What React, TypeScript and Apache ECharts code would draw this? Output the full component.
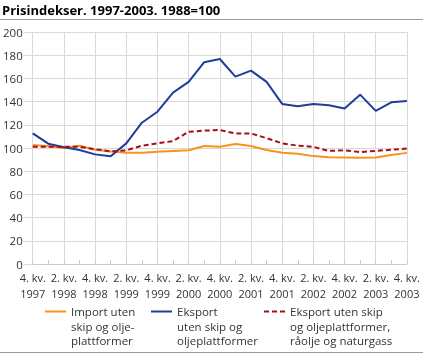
import React, { useEffect, useRef } from "react";
import * as echarts from "echarts";

const categories = [
  "4. kv.\n1997", "1. kv.\n1998", "2. kv.\n1998", "3. kv.\n1998", "4. kv.\n1998",
  "1. kv.\n1999", "2. kv.\n1999", "3. kv.\n1999", "4. kv.\n1999",
  "1. kv.\n2000", "2. kv.\n2000", "3. kv.\n2000", "4. kv.\n2000",
  "1. kv.\n2001", "2. kv.\n2001", "3. kv.\n2001", "4. kv.\n2001",
  "1. kv.\n2002", "2. kv.\n2002", "3. kv.\n2002", "4. kv.\n2002",
  "1. kv.\n2003", "2. kv.\n2003", "3. kv.\n2003", "4. kv.\n2003",
];

const importValues = [
  102.6, 101.5, 100, 102, 98.5, 97, 95.8, 96, 96.8, 97.4, 98, 101.7, 101.1,
  103.4, 101.7, 98.3, 96, 95, 93, 92, 91.8, 91.5, 91.8, 94, 95.8,
];
const eksportValues = [
  112.6, 103.7, 100.6, 98.3, 94.5, 92.8, 104, 121.8, 131.3, 147.7, 157, 174,
  176.7, 161.5, 166.7, 157, 138, 136, 138, 136.8, 134, 146, 132, 139.4, 140.5,
];
const eksportUtenOljeValues = [
  101, 101, 101, 101, 99, 97, 98, 102, 104, 106, 114, 115, 115.5, 112.5, 112.5,
  108.5, 104, 102, 101, 97.5, 98, 96.5, 97.5, 98.5, 99.5,
];

const seriesNames = [
  "Import uten\nskip og olje-\nplattformer",
  "Eksport\nuten skip og\noljeplattformer",
  "Eksport uten skip\nog oljeplattformer,\nråolje og naturgass",
];
const seriesColors = ["#f7941d", "#1f3d99", "#a50f15"];
const seriesTypes = ["solid", "solid", "dashed"];
const seriesData = [importValues, eksportValues, eksportUtenOljeValues];

const yTicks = { min: 0, max: 200, interval: 20 };
const title = "Prisindekser. 1997-2003. 1988=100";

const FONT = "'Open Sans', sans-serif";

export default function App() {
  const ref = useRef<HTMLDivElement>(null);
  useEffect(() => {
    if (!ref.current) return;
    const chart = echarts.init(ref.current, null, { renderer: "svg" });
    const legendX = [45, 151, 264];
    const legendGraphics: any[] = [];
    seriesNames.forEach((name, i) => {
      legendGraphics.push({
        type: "line",
        shape: { x1: legendX[i], y1: 311.5, x2: legendX[i] + 21, y2: 311.5 },
        style: {
          stroke: seriesColors[i],
          lineWidth: 2,
          lineDash: seriesTypes[i] === "dashed" ? [5, 3] : null,
        },
      });
      legendGraphics.push({
        type: "text",
        x: legendX[i] + 26,
        y: 304.5,
        style: {
          text: name,
          font: `11.5px ${FONT}`,
          fill: "#333",
          lineHeight: 14.5,
          textVerticalAlign: "top",
        },
      });
    });
    chart.setOption({
      animation: false,
      textStyle: { fontFamily: FONT },
      graphic: [
        {
          type: "text",
          x: 2,
          y: 3,
          style: {
            text: title,
            font: `bold 13px ${FONT}`,
            fill: "#000",
          },
        },
        {
          type: "line",
          shape: { x1: 0, y1: 19.5, x2: 423, y2: 19.5 },
          style: { stroke: "#9a9a9a", lineWidth: 1 },
        },
        {
          type: "line",
          shape: { x1: 0, y1: 352.5, x2: 423, y2: 352.5 },
          style: { stroke: "#9a9a9a", lineWidth: 1 },
        },
        ...legendGraphics,
      ],
      grid: { left: 31, right: 13, top: 32, bottom: 90, containLabel: false },
      xAxis: {
        type: "category",
        data: categories,
        boundaryGap: false,
        axisLine: { show: true, lineStyle: { color: "#cccccc" } },
        axisTick: {
          show: true,
          interval: 0,
          inside: true,
          length: 4,
          lineStyle: { color: "#cccccc" },
        },
        axisLabel: {
          interval: 1,
          color: "#333",
          fontSize: 11,
          lineHeight: 16,
          margin: 5,
          fontFamily: FONT,
        },
        splitLine: {
          show: true,
          interval: 1,
          lineStyle: { color: "#d9d9d9", width: 1 },
        },
      },
      yAxis: {
        type: "value",
        min: yTicks.min,
        max: yTicks.max,
        interval: yTicks.interval,
        axisLine: { show: false },
        axisTick: { show: true, length: 9, lineStyle: { color: "#d9d9d9" } },
        axisLabel: { color: "#333", fontSize: 11.5, margin: 10, fontFamily: FONT },
        splitLine: { show: true, lineStyle: { color: "#d9d9d9", width: 1 } },
      },
      series: seriesNames.map((name, i) => ({
        name,
        type: "line",
        data: seriesData[i],
        symbol: "none",
        lineStyle: {
          color: seriesColors[i],
          width: 2,
          type: seriesTypes[i] === "dashed" ? [5, 3] : "solid",
        },
        itemStyle: { color: seriesColors[i] },
        z: i === 0 ? 2 : i === 1 ? 3 : 4,
      })),
    });
    return () => chart.dispose();
  }, []);
  return (
    <div
      ref={ref}
      style={{ position: "fixed", left: 0, top: 0, width: 423, height: 354 }}
    />
  );
}
